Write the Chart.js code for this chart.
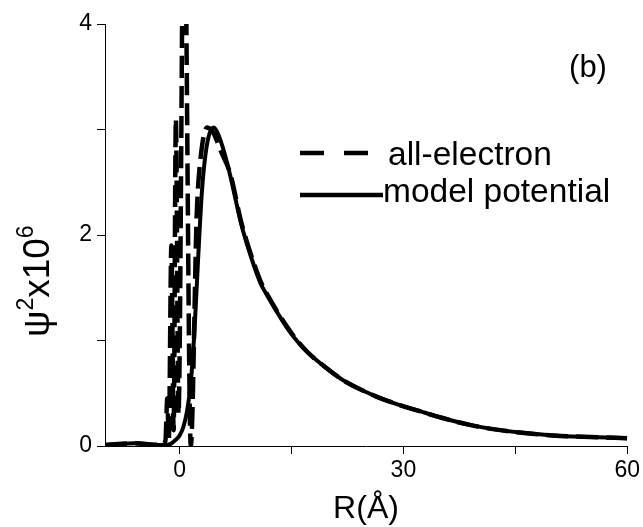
<!DOCTYPE html>
<html>
<head>
<meta charset="utf-8">
<script src="https://cdn.jsdelivr.net/npm/chart.js@4/dist/chart.umd.min.js"></script>
<style>
html,body{margin:0;padding:0;background:#fff;}
#wrap{width:643px;height:527px;position:relative;}
</style>
</head>
<body>
<div id="wrap"><canvas id="c" width="643" height="527"></canvas></div>
<script>
// ---- data ----
const modelX = [-10, -8, -6, -4, -2, -1.2, -0.5, 0, 0.5, 1.0, 1.5, 2.0, 2.5, 3.0, 3.5, 4.0, 4.6, 5.2, 6.0, 6.8, 8.2, 9.0, 10.8, 11.8, 14.9, 17, 19.3, 22, 26, 29, 32.2, 35, 38.9, 42, 45.6, 50, 55, 60];
const modelY = [0.01, 0.02, 0.025, 0.015, 0.01, 0.02, 0.06, 0.1, 0.18, 0.33, 0.6, 1.1, 1.8, 2.42, 2.78, 2.96, 3.02, 2.95, 2.78, 2.56, 2.12, 1.92, 1.55, 1.42, 1.07, 0.9, 0.76, 0.62, 0.48, 0.4, 0.33, 0.27, 0.2, 0.16, 0.127, 0.1, 0.085, 0.074];

const aeX = [-10, -6, -2.5, -1.9, -1.65, -1.45, -1.1, -0.8, -0.5, -0.15, 0.6, 1.5, 2.3, 2.8, 3.7, 4.5, 5.5, 6.8, 8.2, 9.0, 10.8, 11.8, 14.9, 17, 19.3, 22, 26, 29, 32.2, 35, 38.9, 42, 45.6, 50, 55, 60];
const aeY = [0.01, 0.025, 0.01, 0.05, 0.45, 0.05, 1.9, 0.15, 3.1, 0.3, 5.5, 0.0, 2.2, 2.72, 3.02, 2.97, 2.8, 2.58, 2.14, 1.94, 1.57, 1.43, 1.08, 0.9, 0.76, 0.62, 0.48, 0.4, 0.33, 0.27, 0.2, 0.16, 0.127, 0.1, 0.085, 0.074];

const xTicks = [0, 15, 30, 45, 60];
const xTickLabels = ['0', '', '30', '', '60'];
const yTicks = [0, 1, 2, 3, 4];
const yTickLabels = ['0', '', '2', '', '4'];

const seriesNames = ['all-electron', 'model potential'];

const toPts = (xs, ys) => xs.map((x, i) => ({x: x, y: ys[i]}));

const FONT = "'Liberation Sans', Arial, sans-serif";

const extras = {
  id: 'extras',
  afterDraw(chart) {
    const ctx = chart.ctx;
    ctx.save();
    ctx.fillStyle = '#000';
    ctx.strokeStyle = '#000';
    // legend
    ctx.lineWidth = 4.5;
    ctx.setLineDash([24, 20]);
    ctx.beginPath(); ctx.moveTo(300, 153); ctx.lineTo(370, 153); ctx.stroke();
    ctx.setLineDash([]);
    ctx.beginPath(); ctx.moveTo(300, 195); ctx.lineTo(383, 195); ctx.stroke();
    ctx.font = '33.5px ' + FONT;
    ctx.textBaseline = 'alphabetic';
    ctx.textAlign = 'left';
    ctx.fillText(seriesNames[0], 388, 165);
    ctx.fillText(seriesNames[1], 383, 202);
    // panel tag
    ctx.font = '31px ' + FONT;
    ctx.textAlign = 'center';
    ctx.fillText('(b)', 588, 77);
    // x title
    ctx.font = '32px ' + FONT;
    ctx.fillText('R(\u00C5)', 366, 518);
    // y title (rotated, with superscripts)
    ctx.translate(49, 337);
    ctx.rotate(-Math.PI / 2);
    ctx.textAlign = 'left';
    let x = 0;
    const big = '37px ' + FONT, small = '23px ' + FONT;
    ctx.font = big; ctx.fillText('\u03C8', x, 0); x += ctx.measureText('\u03C8').width;
    ctx.font = small; ctx.fillText('2', x, -16); x += ctx.measureText('2').width;
    ctx.font = big; ctx.fillText('x10', x, 0); x += ctx.measureText('x10').width;
    ctx.font = small; ctx.fillText('6', x, -16);
    ctx.restore();
  }
};

new Chart(document.getElementById('c'), {
  type: 'line',
  data: {
    datasets: [
      {
        label: seriesNames[0],
        data: toPts(aeX, aeY),
        borderColor: '#000',
        borderWidth: 4.5,
        borderDash: [22, 8],
        pointRadius: 0,
        fill: false,
        tension: 0,
        cubicInterpolationMode: 'monotone'
      },
      {
        label: seriesNames[1],
        data: toPts(modelX, modelY),
        borderColor: '#000',
        borderWidth: 4,
        pointRadius: 0,
        fill: false,
        cubicInterpolationMode: 'monotone'
      }
    ]
  },
  options: {
    responsive: false,
    animation: false,
    layout: { padding: { top: 24, right: 15, left: 0, bottom: 0 } },
    plugins: { legend: { display: false }, tooltip: { enabled: false }, title: { display: false } },
    scales: {
      x: {
        type: 'linear',
        min: -10, max: 60,
        afterBuildTicks: (s) => { s.ticks = xTicks.map(v => ({value: v})); },
        afterFit: (s) => { s.height = 81; },
        ticks: {
          color: '#000',
          font: { family: FONT, size: 23 },
          padding: 3,
          maxRotation: 0,
          autoSkip: false,
          callback: (v) => { const i = xTicks.indexOf(v); return i >= 0 ? xTickLabels[i] : ''; }
        },
        grid: { drawOnChartArea: false, drawTicks: true, tickLength: 8, color: '#000', lineWidth: 1 },
        border: { display: true, color: '#000', width: 1 }
      },
      y: {
        type: 'linear',
        min: 0, max: 4,
        afterBuildTicks: (s) => { s.ticks = yTicks.map(v => ({value: v})); },
        afterFit: (s) => { s.width = 105; },
        ticks: {
          color: '#000',
          font: { family: FONT, size: 23 },
          padding: 5,
          autoSkip: false,
          callback: (v) => { const i = yTicks.indexOf(v); return i >= 0 ? yTickLabels[i] : ''; }
        },
        grid: { drawOnChartArea: false, drawTicks: true, tickLength: 8, color: '#000', lineWidth: 1 },
        border: { display: true, color: '#000', width: 1 }
      }
    }
  },
  plugins: [extras]
});
</script>
</body>
</html>
